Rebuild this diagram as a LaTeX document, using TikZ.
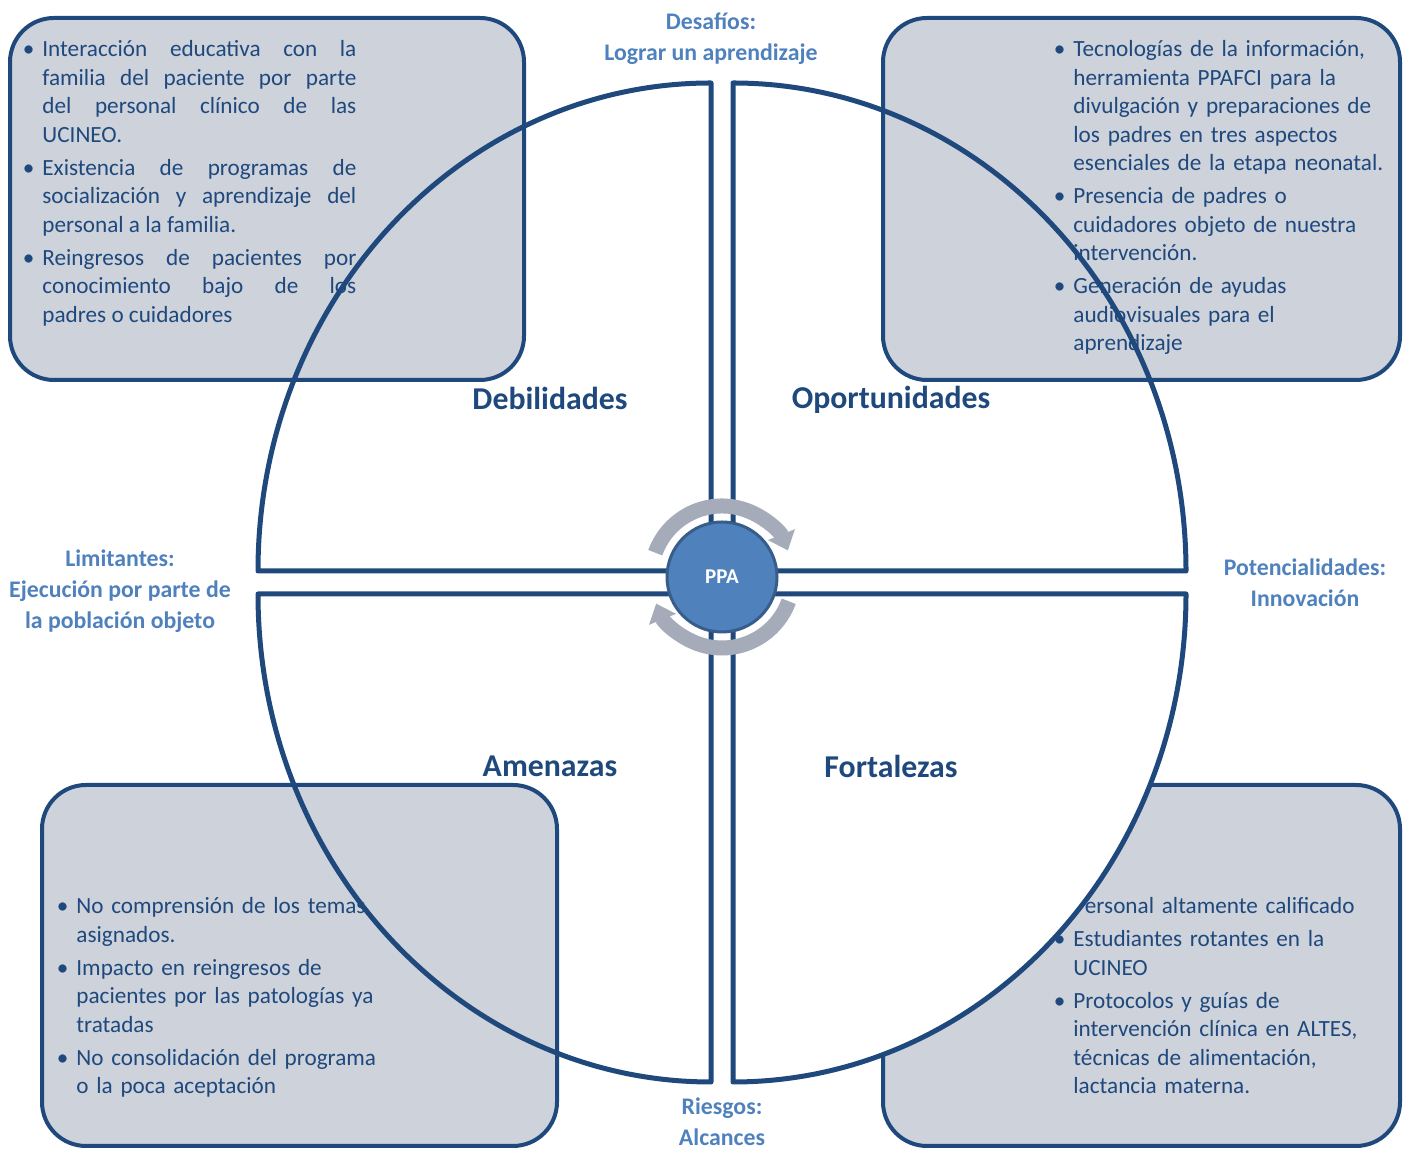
\documentclass[tikz,border=0pt]{standalone}
\usepackage{fontspec}
\setmainfont{Carlito}
\usepackage{enumitem}
\usepackage{tikz}
\usetikzlibrary{arrows.meta}
\definecolor{swotline}{HTML}{1F497D}
\definecolor{swotfill}{HTML}{CDD2DB}
\definecolor{swotlabel}{HTML}{4F81BD}
\definecolor{ppafill}{HTML}{4F81BD}
\definecolor{ppaline}{HTML}{385D8A}
\definecolor{cyclegrey}{HTML}{A5ABB9}
\setlist[itemize]{label=\textbullet,leftmargin=7.5pt,labelsep=4pt,labelwidth=3.5pt,topsep=0pt,partopsep=0pt,parsep=0pt,itemsep=2.25pt}
\tikzstyle{sector}=[draw=swotline,line width=2.5pt,line join=round]
\tikzstyle{swotbox}=[draw=swotline,line width=2pt,fill=swotfill,rounded corners=22pt]
\tikzstyle{boxtext}=[anchor=north west,inner sep=0pt,text=swotline,font=\fontsize{11.6pt}{14.25pt}\selectfont]
\tikzstyle{quadtitle}=[text=swotline,font=\fontsize{15.9pt}{19pt}\selectfont\bfseries]
\tikzstyle{sidelabel}=[text=swotlabel,align=center,font=\fontsize{11.9pt}{15.5pt}\selectfont\bfseries]
\tikzstyle{cyc}=[cyclegrey,line width=7.5pt,-{Triangle[length=8.5pt,width=14pt]}]
\begin{document}
\begin{tikzpicture}[x=0.5pt,y=0.5pt]
	\useasboundingbox (0,0) rectangle (1408,1149);
	\draw[swotbox] (10,769) rectangle (524,1131);
	\draw[swotbox] (883,769) rectangle (1400,1131);
	\draw[swotbox] (42,3) rectangle (557,364);
	\draw[swotbox] (883,3) rectangle (1400,364);
	\node[boxtext,text width=164.5pt,align=justify] (debtext) at (27,1121) {\sloppy
	\begin{itemize}
		\item Interacción educativa con la\linebreak familia del paciente por parte\linebreak del personal clínico de las\linebreak UCINEO.
		\item Existencia de programas de\linebreak socialización y aprendizaje del\linebreak personal a la familia.
		\item Reingresos de pacientes por\linebreak conocimiento bajo de los\linebreak padres o cuidadores
	\end{itemize}};
	\node[boxtext,text width=172pt,align=left] (opotext) at (1058,1121) {
	\begin{itemize}
		\item Tecnologías de la información,\\ herramienta PPAFCI para la\\ divulgación y preparaciones de\\ los padres en tres aspectos\\ esenciales de la etapa neonatal.
		\item Presencia de padres o\\ cuidadores objeto de nuestra\\ intervención.
		\item Generación de ayudas\\ audiovisuales para el\\ aprendizaje
	\end{itemize}};
	\node[boxtext,text width=240pt,align=left] (ametext) at (61,264) {
	\begin{itemize}
		\item No comprensión de los temas\\ asignados.
		\item Impacto en reingresos de\\ pacientes por las patologías ya\\ tratadas
		\item No consolidación del programa\\ o la poca aceptación
	\end{itemize}};
	\node[boxtext,text width=172pt,align=left] (fortext) at (1058,264) {
	\begin{itemize}
		\item Personal altamente calificado
		\item Estudiantes rotantes en la\\ UCINEO
		\item Protocolos y guías de\\ intervención clínica en ALTES,\\ técnicas de alimentación,\\ lactancia materna.
	\end{itemize}};
	\draw[sector,fill=white] (733,555) -- (1186,555) arc[start angle=0,end angle=-90,x radius=453,y radius=488] -- cycle;
	\draw[sector] (711,578) -- (258,578) arc[start angle=180,end angle=90,x radius=453,y radius=488] -- cycle;
	\draw[sector] (733,578) -- (733,1066) arc[start angle=90,end angle=0,x radius=453,y radius=488] -- cycle;
	\draw[sector] (711,555) -- (258,555) arc[start angle=180,end angle=270,x radius=453,y radius=488] -- cycle;
	\node[quadtitle] (deb) at (550,751) {Debilidades};
	\node[quadtitle] (opo) at (891,749) {Oportunidades};
	\node[quadtitle] (ame) at (550,383) {Amenazas};
	\node[quadtitle] (for) at (891,383) {Fortalezas};
	\node[sidelabel] (desafios) at (711,1110) {Desafíos:\\Lograr un aprendizaje};
	\node[sidelabel] (limitantes) at (120,558) {Limitantes:\\Ejecución por parte de\\la población objeto};
	\node[sidelabel] (potencial) at (1305,566) {Potencialidades:\\Innovación};
	\node[sidelabel] (riesgos) at (722,27) {Riesgos:\\Alcances};
	\coordinate (ppac) at (722,572);
	\draw[cyc] (ppac) ++(160:71) arc[start angle=160,end angle=22,radius=71];
	\draw[cyc] (ppac) ++(-20:71) arc[start angle=-20,end angle=-158,radius=71];
	\node[circle,fill=ppafill,draw=ppaline,line width=1.5pt,minimum size=55pt,text=white,font=\fontsize{10.5pt}{12pt}\selectfont\bfseries] (ppa) at (ppac) {PPA};
\end{tikzpicture}
\end{document}
